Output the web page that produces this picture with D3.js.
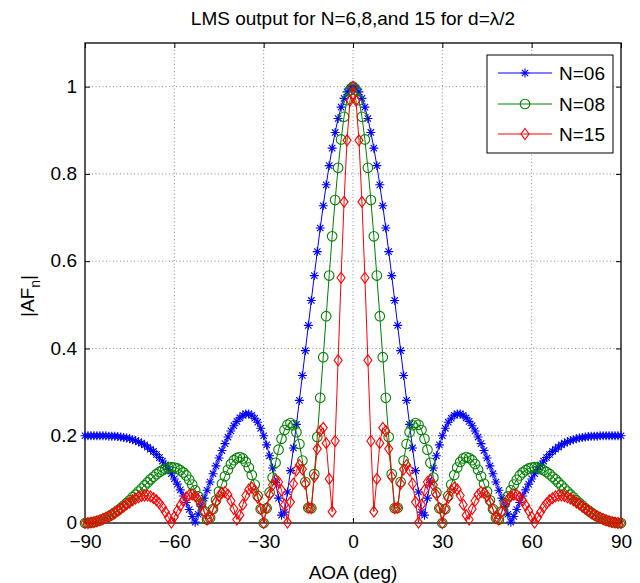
<!DOCTYPE html>
<html>
<head>
<meta charset="utf-8">
<script src="https://cdn.jsdelivr.net/npm/d3@7"></script>
<style>
  html, body { margin: 0; padding: 0; background: #fff; }
  svg { display: block; }
  text { font-family: "Liberation Sans", Arial, Helvetica, sans-serif; fill: #000; }
</style>
</head>
<body>
<svg id="chart" width="640" height="583"></svg>
<script>
// ---- data ----
const angles = [-90,-89,-88,-87,-86,-85,-84,-83,-82,-81,-80,-79,-78,-77,-76,-75,-74,-73,-72,-71,
-70,-69,-68,-67,-66,-65,-64,-63,-62,-61,-60,-59,-58,-57,-56,-55,-54,-53,-52,-51,
-50,-49,-48,-47,-46,-45,-44,-43,-42,-41,-40,-39,-38,-37,-36,-35,-34,-33,-32,-31,
-30,-29,-28,-27,-26,-25,-24,-23,-22,-21,-20,-19,-18,-17,-16,-15,-14,-13,-12,-11,
-10,-9,-8,-7,-6,-5,-4,-3,-2,-1,0,1,2,3,4,5,6,7,8,9,10,
11,12,13,14,15,16,17,18,19,20,21,22,23,24,25,26,27,28,29,30,
31,32,33,34,35,36,37,38,39,40,41,42,43,44,45,46,47,48,49,50,
51,52,53,54,55,56,57,58,59,60,61,62,63,64,65,66,67,68,69,70,
71,72,73,74,75,76,77,78,79,80,81,82,83,84,85,86,87,88,89,90];

const afN06 = [
0.200,0.200,0.200,0.200,0.200,0.200,0.200,0.200,0.199,0.199,
0.199,0.198,0.197,0.196,0.195,0.193,0.191,0.189,0.186,0.183,
0.179,0.174,0.169,0.164,0.157,0.150,0.142,0.133,0.123,0.113,
0.101,0.089,0.076,0.062,0.047,0.031,0.015,0.002,0.020,0.038,
0.057,0.075,0.094,0.113,0.131,0.149,0.166,0.182,0.197,0.211,
0.223,0.233,0.241,0.247,0.250,0.250,0.247,0.240,0.231,0.217,
0.200,0.179,0.154,0.126,0.093,0.057,0.018,0.025,0.071,0.120,
0.172,0.226,0.281,0.338,0.395,0.453,0.510,0.567,0.622,0.676,
0.727,0.775,0.819,0.859,0.895,0.927,0.953,0.973,0.988,0.997,
1.000,
0.997,0.988,0.973,0.953,0.927,0.895,0.859,0.819,0.775,0.727,
0.676,0.622,0.567,0.510,0.453,0.395,0.338,0.281,0.226,0.172,
0.120,0.071,0.025,0.018,0.057,0.093,0.126,0.154,0.179,0.200,
0.217,0.231,0.240,0.247,0.250,0.250,0.247,0.241,0.233,0.223,
0.211,0.197,0.182,0.166,0.149,0.131,0.113,0.094,0.075,0.057,
0.038,0.020,0.002,0.015,0.031,0.047,0.062,0.076,0.089,0.101,
0.113,0.123,0.133,0.142,0.150,0.157,0.164,0.169,0.174,0.179,
0.183,0.186,0.189,0.191,0.193,0.195,0.196,0.197,0.198,0.199,
0.199,0.199,0.200,0.200,0.200,0.200,0.200,0.200,0.200,0.200];

const afN08 = [
0.000,0.000,0.001,0.002,0.004,0.006,0.009,0.012,0.015,0.019,
0.024,0.029,0.034,0.040,0.046,0.052,0.059,0.065,0.072,0.079,
0.086,0.093,0.100,0.106,0.112,0.117,0.121,0.124,0.127,0.128,
0.127,0.125,0.121,0.116,0.109,0.099,0.088,0.075,0.061,0.045,
0.027,0.008,0.012,0.032,0.052,0.072,0.090,0.107,0.122,0.135,
0.144,0.149,0.151,0.148,0.140,0.127,0.110,0.088,0.062,0.032,
0.000,0.034,0.070,0.104,0.138,0.168,0.193,0.213,0.225,0.229,
0.224,0.208,0.181,0.143,0.094,0.035,0.034,0.112,0.197,0.287,
0.380,0.474,0.567,0.657,0.740,0.814,0.879,0.931,0.969,0.992,
1.000,
0.992,0.969,0.931,0.879,0.814,0.740,0.657,0.567,0.474,0.380,
0.287,0.197,0.112,0.034,0.035,0.094,0.143,0.181,0.208,0.224,
0.229,0.225,0.213,0.193,0.168,0.138,0.104,0.070,0.034,0.000,
0.032,0.062,0.088,0.110,0.127,0.140,0.148,0.151,0.149,0.144,
0.135,0.122,0.107,0.090,0.072,0.052,0.032,0.012,0.008,0.027,
0.045,0.061,0.075,0.088,0.099,0.109,0.116,0.121,0.125,0.127,
0.128,0.127,0.124,0.121,0.117,0.112,0.106,0.100,0.093,0.086,
0.079,0.072,0.065,0.059,0.052,0.046,0.040,0.034,0.029,0.024,
0.019,0.015,0.012,0.009,0.006,0.004,0.002,0.001,0.000,0.000];

const afN15 = [
0.000,0.000,0.001,0.002,0.004,0.006,0.009,0.012,0.015,0.019,
0.023,0.028,0.033,0.038,0.043,0.047,0.052,0.056,0.059,0.062,
0.063,0.063,0.061,0.057,0.052,0.045,0.036,0.025,0.013,0.001,
0.014,0.028,0.040,0.051,0.059,0.064,0.065,0.062,0.054,0.042,
0.026,0.008,0.012,0.031,0.048,0.062,0.069,0.071,0.065,0.051,
0.032,0.008,0.018,0.042,0.063,0.077,0.081,0.075,0.058,0.032,
0.000,0.034,0.065,0.087,0.098,0.094,0.075,0.042,0.001,0.048,
0.090,0.121,0.133,0.123,0.090,0.035,0.034,0.106,0.170,0.211,
0.218,0.183,0.101,0.026,0.188,0.373,0.562,0.736,0.877,0.968,
1.000,
0.968,0.877,0.736,0.562,0.373,0.188,0.026,0.101,0.183,0.218,
0.211,0.170,0.106,0.034,0.035,0.090,0.123,0.133,0.121,0.090,
0.048,0.001,0.042,0.075,0.094,0.098,0.087,0.065,0.034,0.000,
0.032,0.058,0.075,0.081,0.077,0.063,0.042,0.018,0.008,0.032,
0.051,0.065,0.071,0.069,0.062,0.048,0.031,0.012,0.008,0.026,
0.042,0.054,0.062,0.065,0.064,0.059,0.051,0.040,0.028,0.014,
0.001,0.013,0.025,0.036,0.045,0.052,0.057,0.061,0.063,0.063,
0.062,0.059,0.056,0.052,0.047,0.043,0.038,0.033,0.028,0.023,
0.019,0.015,0.012,0.009,0.006,0.004,0.002,0.001,0.000,0.000];

const seriesNames = ["N=06", "N=08", "N=15"];
const xTicks = [-90, -60, -30, 0, 30, 60, 90];
const yTicks = [0, 0.2, 0.4, 0.6, 0.8, 1];
const titleText = "LMS output for N=6,8,and 15 for d=\u03BB/2";
const xLabel = "AOA (deg)";

// ---- chart ----
const svg = d3.select("#chart");
const L = 85, R = 621, T = 43, B = 523;
const x = d3.scaleLinear().domain([-90, 90]).range([L, R]);
const y = d3.scaleLinear().domain([0, 1.1]).range([B, T]);

svg.append("rect").attr("width", 640).attr("height", 583).attr("fill", "#fff");

// grid
const grid = svg.append("g").attr("stroke", "#6e6e6e").attr("stroke-width", 0.8)
  .attr("stroke-dasharray", "1,2.5");
grid.selectAll("line.gx").data(xTicks.filter(v => v > -90 && v < 90)).enter().append("line")
  .attr("x1", d => x(d)).attr("x2", d => x(d)).attr("y1", T).attr("y2", B);
grid.selectAll("line.gy").data(yTicks.filter(v => v > 0)).enter().append("line")
  .attr("x1", L).attr("x2", R).attr("y1", d => y(d)).attr("y2", d => y(d));

// axes (MATLAB style: inward ticks on all four sides)
const fs = 19;
const axB = svg.append("g").attr("transform", `translate(0,${B})`)
  .call(d3.axisBottom(x).tickValues(xTicks).tickSizeInner(-5).tickSizeOuter(0).tickPadding(12)
    .tickFormat(d3.format("d")));
const axT = svg.append("g").attr("transform", `translate(0,${T})`)
  .call(d3.axisTop(x).tickValues(xTicks).tickSizeInner(-5).tickSizeOuter(0).tickFormat(""));
const axL = svg.append("g").attr("transform", `translate(${L},0)`)
  .call(d3.axisLeft(y).tickValues(yTicks).tickSizeInner(-5).tickSizeOuter(0).tickPadding(8)
    .tickFormat(d => d === 0 ? "0" : d === 1 ? "1" : d3.format(".1f")(d)));
const axR = svg.append("g").attr("transform", `translate(${R},0)`)
  .call(d3.axisRight(y).tickValues(yTicks).tickSizeInner(-5).tickSizeOuter(0).tickFormat(""));
[axB, axT, axL, axR].forEach(g => {
  g.select(".domain").remove();
  g.selectAll(".tick line").attr("stroke", "#000").attr("stroke-width", 1);
  g.selectAll("text").attr("font-size", fs).attr("font-family", "Liberation Sans, Arial, sans-serif").attr("fill", "#000");
});
axL.selectAll(".tick text").attr("dy", "0.3em");
svg.append("rect").attr("x", L).attr("y", T).attr("width", R - L).attr("height", B - T)
  .attr("fill", "none").attr("stroke", "#000").attr("stroke-width", 1.3);

// titles
svg.append("text").attr("x", 353).attr("y", 25).attr("text-anchor", "middle")
  .attr("font-size", fs).text(titleText);
svg.append("text").attr("x", 353).attr("y", 579).attr("text-anchor", "middle")
  .attr("font-size", fs).text(xLabel);
const yl = svg.append("text").attr("transform", "translate(34,296) rotate(-90)")
  .attr("text-anchor", "middle").attr("font-size", fs);
yl.append("tspan").text("|AF");
yl.append("tspan").attr("font-size", 14).attr("dy", 6).text("n");
yl.append("tspan").attr("dy", -6).text("|");

// marker shapes
const markerPath = {
  star: "M-4.5,0H4.5M0,-4.5V4.5M-3.2,-3.2L3.2,3.2M-3.2,3.2L3.2,-3.2",
  circle: null,
  diamond: "M0,-5.5L4,0L0,5.5L-4,0Z"
};
const series = [
  { name: seriesNames[0], values: afN06, color: "#0000ff", marker: "star" },
  { name: seriesNames[1], values: afN08, color: "#008000", marker: "circle" },
  { name: seriesNames[2], values: afN15, color: "#ff0000", marker: "diamond" }
];
function drawMarker(g, type, color) {
  if (type === "circle") {
    g.append("circle").attr("r", 4.8).attr("fill", "none").attr("stroke", color).attr("stroke-width", 1.1);
  } else {
    g.append("path").attr("d", markerPath[type]).attr("fill", "none")
      .attr("stroke", color).attr("stroke-width", 1.1);
  }
}

const line = d3.line().x(d => x(d[0])).y(d => y(d[1]));
series.forEach(s => {
  const pts = angles.map((a, i) => [a, s.values[i]]);
  const g = svg.append("g");
  g.append("path").attr("d", line(pts)).attr("fill", "none").attr("stroke", s.color).attr("stroke-width", 1);
  g.selectAll("g.m").data(pts).enter().append("g")
    .attr("transform", d => `translate(${x(d[0])},${y(d[1])})`)
    .each(function () { drawMarker(d3.select(this), s.marker, s.color); });
});

// legend
const lg = svg.append("g");
lg.append("rect").attr("x", 487).attr("y", 55).attr("width", 126).attr("height", 98)
  .attr("fill", "#fff").attr("stroke", "#000").attr("stroke-width", 1);
const legY = [73, 104, 134];
series.forEach((s, i) => {
  const gy = legY[i];
  lg.append("line").attr("x1", 498).attr("x2", 552).attr("y1", gy).attr("y2", gy)
    .attr("stroke", s.color).attr("stroke-width", 1);
  const m = lg.append("g").attr("transform", `translate(525,${gy})`);
  drawMarker(m, s.marker, s.color);
  lg.append("text").attr("x", 559).attr("y", gy).attr("dy", "0.35em")
    .attr("font-size", fs).text(s.name);
});
</script>
</body>
</html>
